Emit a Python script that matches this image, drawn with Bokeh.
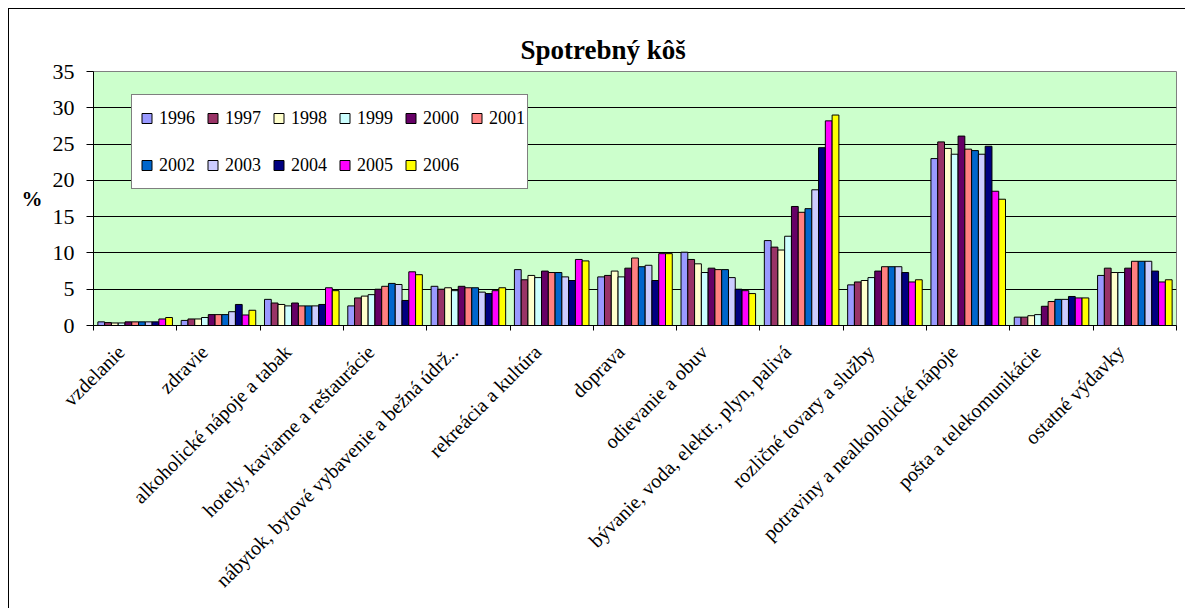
from math import pi
from bokeh.plotting import figure
from bokeh.models import (ColumnDataSource, Range1d, FixedTicker, Legend, LegendItem)
from bokeh.transform import dodge
from bokeh.embed import file_html
from bokeh.resources import INLINE

categories = [
    "vzdelanie",
    "zdravie",
    "alkoholické nápoje a tabak",
    "hotely, kaviarne a reštaurácie",
    "nábytok, bytové vybavenie a bežná údrž..",
    "rekreácia a kultúra",
    "doprava",
    "odievanie a obuv",
    "bývanie, voda, elektr., plyn, palivá",
    "rozličné tovary a služby",
    "potraviny a nealkoholické nápoje",
    "pošta a telekomunikácie",
    "ostatné výdavky",
]
years = ["1996", "1997", "1998", "1999", "2000", "2001", "2002", "2003", "2004", "2005", "2006"]

v1996 = [0.5, 0.7, 3.6, 2.7, 5.4, 7.7, 6.7, 10.1, 11.7, 5.6, 23.0, 1.15, 6.9]
v1997 = [0.4, 0.9, 3.1, 3.8, 5.0, 6.3, 6.9, 9.1, 10.8, 6.0, 25.3, 1.15, 7.9]
v1998 = [0.35, 0.9, 2.9, 4.05, 5.2, 6.9, 7.5, 8.5, 10.4, 6.2, 24.4, 1.35, 7.3]
v1999 = [0.35, 1.1, 2.7, 4.25, 4.8, 6.6, 6.7, 7.3, 12.3, 6.6, 23.6, 1.5, 7.3]
v2000 = [0.5, 1.5, 3.1, 5.0, 5.4, 7.5, 7.9, 7.9, 16.4, 7.5, 26.1, 2.65, 7.9]
v2001 = [0.5, 1.5, 2.7, 5.4, 5.2, 7.3, 9.3, 7.7, 15.6, 8.1, 24.3, 3.3, 8.85]
v2002 = [0.5, 1.5, 2.7, 5.8, 5.2, 7.3, 8.1, 7.7, 16.1, 8.1, 24.1, 3.6, 8.85]
v2003 = [0.5, 1.9, 2.7, 5.65, 4.6, 6.7, 8.3, 6.6, 18.7, 8.1, 23.6, 3.6, 8.85]
v2004 = [0.5, 2.9, 2.9, 3.45, 4.4, 6.2, 6.2, 5.0, 24.5, 7.3, 24.7, 4.0, 7.5]
v2005 = [0.9, 1.45, 5.2, 7.4, 4.8, 9.1, 9.9, 4.8, 28.2, 6.0, 18.5, 3.8, 6.0]
v2006 = [1.1, 2.1, 4.8, 7.0, 5.2, 8.9, 9.9, 4.4, 29.0, 6.3, 17.4, 3.8, 6.3]

colors = ["#9999FF", "#993366", "#FFFFCC", "#CCFFFF", "#660066", "#FF8080",
          "#0066CC", "#CCCCFF", "#000080", "#FF00FF", "#FFFF00"]

y_ticks = [0, 5, 10, 15, 20, 25, 30, 35]

SERIF = "Liberation Serif, Times New Roman, DejaVu Serif, serif"

n = len(categories)
series = [v1996, v1997, v1998, v1999, v2000, v2001, v2002, v2003, v2004, v2005, v2006]
data = {"cat": categories, "xi": [i + 0.5 for i in range(n)]}
for yr, s in zip(years, series):
    data["y" + yr] = s
source = ColumnDataSource(data)

p = figure(
    x_range=Range1d(0, n),
    y_range=Range1d(0, 35),
    width=1177, height=600,
    output_backend="svg", toolbar_location=None,
    min_border_left=84, min_border_right=10, min_border_top=62, min_border_bottom=284,
    background_fill_color="#CCFFCC", border_fill_color="white",
    outline_line_color="#808080", outline_line_width=1,
)
p.margin = (8, 0, 0, 8)
p.styles = {"border-top": "1px solid black", "border-left": "1px solid black"}

bw = 0.895 / len(years)
items = []
for j, (yr, col) in enumerate(zip(years, colors)):
    off = (j - (len(years) - 1) / 2) * bw
    p.vbar(x=dodge("xi", off), top="y" + yr, width=bw, source=source,
           fill_color=col, line_color="black", line_width=1)
    s = p.scatter(x=dodge("xi", off), y="y" + yr, source=source,
                  marker="square", size=10, fill_color=col, line_color="black",
                  visible=False)
    items.append(LegendItem(label=yr, renderers=[s]))

legend = Legend(items=items, location=(38, 136), orientation="horizontal", ncols=6,
                glyph_width=25, glyph_height=42, label_height=42, label_standoff=0,
                spacing=5, padding=2, margin=0,
                border_line_color="black", border_line_width=1,
                background_fill_color="white", background_fill_alpha=1.0,
                label_text_font="serif", label_text_font_size="18px",
                label_text_color="black")
p.add_layout(legend)

# category labels left of the centres, tick marks between categories
label_pos = [i + 0.5 - 0.17 for i in range(n)]
p.xaxis.ticker = FixedTicker(ticks=label_pos, minor_ticks=list(range(n + 1)))
p.xaxis.major_label_overrides = {pos: c for pos, c in zip(label_pos, categories)}
p.xaxis.major_label_orientation = pi / 4
p.xaxis.major_tick_line_color = None
p.xaxis.major_tick_in = 0
p.xaxis.major_tick_out = 0
p.xaxis.minor_tick_in = 0
p.xaxis.minor_tick_out = 5
p.xaxis.minor_tick_line_color = "black"
p.xaxis.axis_line_color = "black"
p.xaxis.major_label_standoff = 18
p.xaxis.major_label_text_font = SERIF
p.xaxis.major_label_text_font_size = "20px"
p.xaxis.major_label_text_color = "black"

p.yaxis.ticker = FixedTicker(ticks=y_ticks)
p.yaxis.major_tick_in = 0
p.yaxis.major_tick_out = 7
p.yaxis.minor_tick_line_color = None
p.yaxis.axis_line_color = "black"
p.yaxis.major_tick_line_color = "black"
p.yaxis.major_label_text_font = SERIF
p.yaxis.major_label_text_font_size = "22px"
p.yaxis.major_label_text_color = "black"
p.yaxis.major_label_standoff = 12
p.yaxis.axis_label = "%"
p.yaxis.axis_label_text_font = SERIF
p.yaxis.axis_label_text_font_style = "bold"
p.yaxis.axis_label_text_font_size = "21px"
p.yaxis.axis_label_text_color = "black"
p.yaxis.axis_label_standoff = 7
p.yaxis.axis_label_orientation = "horizontal"

p.ygrid.ticker = FixedTicker(ticks=y_ticks[1:-1])
p.ygrid.grid_line_color = "black"
p.ygrid.grid_line_width = 1
p.xgrid.visible = False

p.title.text = "Spotrebný kôš"
p.title.text_font = SERIF
p.title.text_font_size = "27px"
p.title.text_font_style = "bold"
p.title.text_color = "black"
p.title.align = "left"
p.title.offset = 427
p.title.standoff = 14

open("out.html", "w").write(file_html(p, INLINE))
